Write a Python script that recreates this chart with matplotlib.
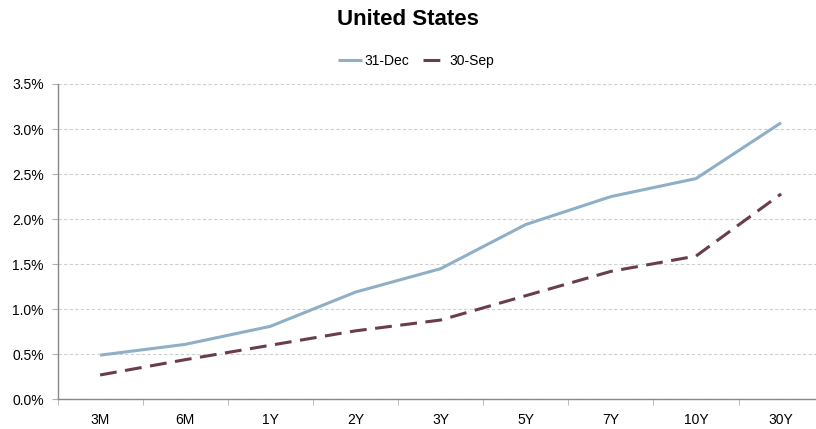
import matplotlib.pyplot as plt
from matplotlib.ticker import FuncFormatter, FixedLocator

# ── Data ──────────────────────────────────────────────────────────────────────

TENORS = ["3M", "6M", "1Y", "2Y", "3Y", "5Y", "7Y", "10Y", "30Y"]
DEC_31 = [0.49, 0.61, 0.81, 1.19, 1.45, 1.94, 2.25, 2.45, 3.07]   # yield, %
SEP_30 = [0.27, 0.44, 0.60, 0.76, 0.88, 1.15, 1.42, 1.59, 2.28]   # yield, %

# ── Plot ──────────────────────────────────────────────────────────────────────

plt.rcParams["font.family"] = ["Liberation Sans", "DejaVu Sans"]

fig = plt.figure(figsize=(8.16, 4.29), dpi=100)
ax = fig.add_axes([0.0705, 0.0692, 0.9295, 0.735])

x = list(range(len(TENORS)))
ax.plot(x, DEC_31, color="#8eafc6", lw=2.2, label="31-Dec", solid_capstyle="butt")
ax.plot(x, SEP_30, color="#6a3c50", lw=2.2, ls=(0, (5.5, 2.8)), label="30-Sep")

ax.set_ylim(0, 3.5)
ax.set_yticks([i * 0.5 for i in range(8)])
ax.yaxis.set_major_formatter(FuncFormatter(lambda v, _: f"{v:.1f}%"))
ax.set_xlim(-0.5, 8.41)
ax.set_xticks(x)
ax.set_xticklabels(TENORS)
ax.xaxis.set_minor_locator(FixedLocator([i - 0.5 for i in range(len(TENORS) + 1)]))

ax.tick_params(axis="x", which="major", length=0, pad=10, labelsize=10)
ax.tick_params(axis="x", which="minor", length=4, color="#b0b0b0", direction="out")
ax.tick_params(axis="y", length=4, color="#b0b0b0", pad=6, labelsize=10)

ax.grid(axis="y", color="#cfcfcf", ls=(0, (3, 2)), lw=0.8)
ax.set_axisbelow(True)
for side in ["top", "right"]:
    ax.spines[side].set_visible(False)
for side in ["left", "bottom"]:
    ax.spines[side].set_color("#888888")
    ax.spines[side].set_linewidth(1.0)

fig.text(0.5, 0.955, "United States", ha="center", va="center",
         fontsize=16, fontweight="bold")
fig.legend(loc="center", bbox_to_anchor=(0.51, 0.858), ncol=2, frameon=False,
           fontsize=10, handlelength=1.7, handletextpad=0.2, columnspacing=1.0)

fig.savefig("out.png", dpi=100)
